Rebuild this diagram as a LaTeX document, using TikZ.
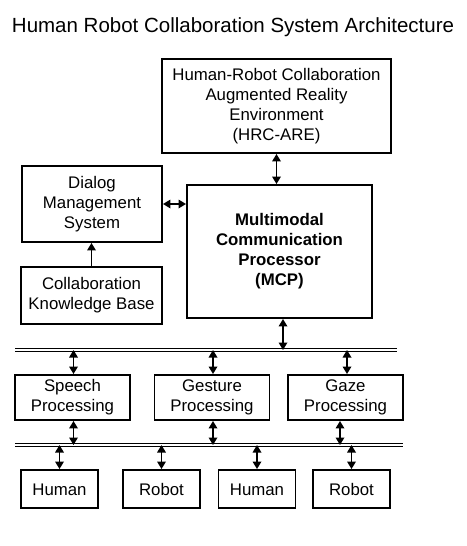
\documentclass[tikz,border=0pt]{standalone}
\usepackage{fontspec}
\setmainfont{Liberation Sans}
\usetikzlibrary{arrows.meta}

\begin{document}
\begin{tikzpicture}[x=1pt, y=-1pt,
    every node/.style={font=\fontsize{16.8}{20}\selectfont, align=center, inner sep=0pt},
    box/.style={draw, line width=1.9pt},
    link/.style={{Triangle[length=7.5pt,width=8.5pt]}-{Triangle[length=7.5pt,width=8.5pt]}, line width=1.7pt},
    oneway/.style={-{Triangle[length=7.5pt,width=8.5pt]}, line width=1.7pt},
    bus/.style={double, double distance=1.6pt, line width=0.8pt}]
            \useasboundingbox (0,0) rectangle (466,546);

            \node[anchor=base, font=\fontsize{20.5}{24}\selectfont] (title) at (233,32) {Human Robot Collaboration System Architecture};

            \node[box, minimum width=229pt, minimum height=94pt] (hrc) at (276.5,106) {Human-Robot Collaboration\\Augmented Reality\\Environment\\(HRC-ARE)};
            \node[box, minimum width=140pt, minimum height=76pt] (dms) at (92,204) {Dialog\\Management\\System};
            \node[box, minimum width=141pt, minimum height=57pt] (ckb) at (91.5,295.5) {Collaboration\\Knowledge Base};
            \node[box, minimum width=185pt, minimum height=133pt, font=\fontsize{16.8}{20}\selectfont\bfseries] (mcp) at (279.5,251.5) {Multimodal\\Communication\\Processor\\(MCP)};

            \draw[link] (hrc.south) -- (hrc.south |- mcp.north);
            \draw[link] (dms.east) -- (dms.east -| mcp.west);
            \draw[oneway] (ckb.north) -- (ckb.north |- dms.south);

            \coordinate (busAl) at (15,350);
            \coordinate (busAr) at (397,350);
            \draw[bus] (busAl) -- (busAr);
            \draw[link] ([xshift=3.5pt]mcp.south) -- ([xshift=3.5pt]mcp.south |- busAl);

            \foreach \nm/\cx/\txt in {sp/72.5/Speech, ge/212/Gesture, gz/345.5/Gaze}
                \node[box, minimum width=115pt, minimum height=45pt] (\nm) at (\cx,397.5) {\txt\\Processing};

            \coordinate (busBl) at (15,445);
            \coordinate (busBr) at (403,445);
            \draw[bus] (busBl) -- (busBr);

            \foreach \nm/\dt/\db in {sp/1/1, ge/1/1, gz/1.5/-5.5} {
                \draw[link] ([xshift=\dt pt]\nm.north |- busAl) -- ([xshift=\dt pt]\nm.north);
                \draw[link] ([xshift=\db pt]\nm.south) -- ([xshift=\db pt]\nm.south |- busBl);
            }

            \foreach \nm/\cx/\txt in {hu1/59.5/Human, ro1/161.5/Robot, hu2/257/Human, ro2/351.5/Robot} {
                \node[box, minimum width=77pt, minimum height=38pt, text height=12pt, text depth=0pt] (\nm) at (\cx,489) {\txt};
                \draw[link] (\nm.north |- busBl) -- (\nm.north);
            }

        \end{tikzpicture}
\end{document}
